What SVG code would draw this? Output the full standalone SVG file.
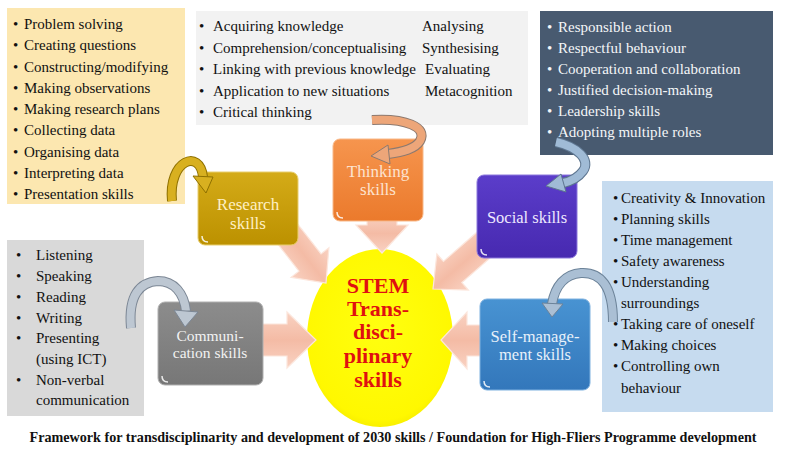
<svg xmlns="http://www.w3.org/2000/svg" width="786" height="450" viewBox="0 0 786 450">
<defs>
<style>
.t{font-family:"Liberation Serif","Times New Roman",serif;font-size:15px;fill:#111}
.w{fill:#F4F6F8}
.n{font-family:"Liberation Serif","Times New Roman",serif;text-anchor:middle}
.c{font-family:"Liberation Serif","Times New Roman",serif;font-weight:bold;font-size:22px;fill:#E01010;text-anchor:middle}
.big{fill:url(#gArrow);stroke:#FCE6DC;stroke-width:1.2}
.curl{fill:none;stroke:#FFFFFF;stroke-width:1.5;opacity:0.85}
</style>
<linearGradient id="gArrow" x1="0" y1="0" x2="0" y2="1">
<stop offset="0" stop-color="#F9D2C2"/><stop offset="0.5" stop-color="#F4BBA5"/><stop offset="1" stop-color="#F9D2C2"/>
</linearGradient>
<linearGradient id="gRes" x1="0" y1="0" x2="0" y2="1"><stop offset="0" stop-color="#D4AB18"/><stop offset="1" stop-color="#BC9100"/></linearGradient>
<linearGradient id="gThk" x1="0" y1="0" x2="0" y2="1"><stop offset="0" stop-color="#F6954E"/><stop offset="1" stop-color="#EB7A2C"/></linearGradient>
<linearGradient id="gSoc" x1="0" y1="0" x2="0" y2="1"><stop offset="0" stop-color="#5B3DCA"/><stop offset="1" stop-color="#4729B0"/></linearGradient>
<linearGradient id="gCom" x1="0" y1="0" x2="0" y2="1"><stop offset="0" stop-color="#8C8C8C"/><stop offset="1" stop-color="#777777"/></linearGradient>
<linearGradient id="gSelf" x1="0" y1="0" x2="0" y2="1"><stop offset="0" stop-color="#4893D2"/><stop offset="1" stop-color="#3377BB"/></linearGradient>
<radialGradient id="gSun" cx="0.5" cy="0.45" r="0.6"><stop offset="0" stop-color="#FFFF10"/><stop offset="0.85" stop-color="#FFF800"/><stop offset="1" stop-color="#F2E600"/></radialGradient>
</defs>
<rect width="786" height="450" fill="#FFFFFF"/>

<g id="list-research">
<rect x="7" y="8" width="178" height="196" fill="#FCE7B0"/>
<text class="t"><tspan x="13" y="29">•</tspan><tspan x="24" y="29">Problem solving</tspan></text>
<text class="t"><tspan x="13" y="50.3">•</tspan><tspan x="24" y="50.3">Creating questions</tspan></text>
<text class="t"><tspan x="13" y="71.5">•</tspan><tspan x="24" y="71.5">Constructing/modifying</tspan></text>
<text class="t"><tspan x="13" y="92.8">•</tspan><tspan x="24" y="92.8">Making observations</tspan></text>
<text class="t"><tspan x="13" y="114">•</tspan><tspan x="24" y="114">Making research plans</tspan></text>
<text class="t"><tspan x="13" y="135.3">•</tspan><tspan x="24" y="135.3">Collecting data</tspan></text>
<text class="t"><tspan x="13" y="156.5">•</tspan><tspan x="24" y="156.5">Organising data</tspan></text>
<text class="t"><tspan x="13" y="177.8">•</tspan><tspan x="24" y="177.8">Interpreting data</tspan></text>
<text class="t"><tspan x="13" y="199">•</tspan><tspan x="24" y="199">Presentation skills</tspan></text>
</g>

<g id="list-thinking">
<rect x="196" y="11" width="332" height="114" fill="#F2F2F2"/>
<text class="t"><tspan x="199" y="31">•</tspan><tspan x="213" y="31">Acquiring knowledge</tspan><tspan x="422" y="31">Analysing</tspan></text>
<text class="t"><tspan x="199" y="52.5">•</tspan><tspan x="213" y="52.5">Comprehension/conceptualising</tspan><tspan x="422" y="52.5">Synthesising</tspan></text>
<text class="t"><tspan x="199" y="74">•</tspan><tspan x="213" y="74">Linking with previous knowledge</tspan><tspan x="425" y="74">Evaluating</tspan></text>
<text class="t"><tspan x="199" y="95.5">•</tspan><tspan x="213" y="95.5">Application to new situations</tspan><tspan x="425" y="95.5">Metacognition</tspan></text>
<text class="t"><tspan x="199" y="117">•</tspan><tspan x="213" y="117">Critical thinking</tspan></text>
</g>

<g id="list-social">
<rect x="540" y="11" width="233" height="144" fill="#485A70"/>
<text class="t w"><tspan x="547" y="32">•</tspan><tspan x="558" y="32">Responsible action</tspan></text>
<text class="t w"><tspan x="547" y="53">•</tspan><tspan x="558" y="53">Respectful behaviour</tspan></text>
<text class="t w"><tspan x="547" y="74">•</tspan><tspan x="558" y="74">Cooperation and collaboration</tspan></text>
<text class="t w"><tspan x="547" y="95">•</tspan><tspan x="558" y="95">Justified decision-making</tspan></text>
<text class="t w"><tspan x="547" y="116">•</tspan><tspan x="558" y="116">Leadership skills</tspan></text>
<text class="t w"><tspan x="547" y="137">•</tspan><tspan x="558" y="137">Adopting multiple roles</tspan></text>
</g>

<g id="list-selfmanagement">
<rect x="602" y="181" width="171" height="231" fill="#C6DBEF"/>
<text class="t"><tspan x="613" y="203">•</tspan><tspan x="621" y="203">Creativity &amp; Innovation</tspan></text>
<text class="t"><tspan x="613" y="224">•</tspan><tspan x="621" y="224">Planning skills</tspan></text>
<text class="t"><tspan x="613" y="245">•</tspan><tspan x="621" y="245">Time management</tspan></text>
<text class="t"><tspan x="613" y="266">•</tspan><tspan x="621" y="266">Safety awareness</tspan></text>
<text class="t"><tspan x="613" y="287">•</tspan><tspan x="621" y="287">Understanding</tspan></text>
<text class="t"><tspan x="621" y="308">surroundings</tspan></text>
<text class="t"><tspan x="613" y="329">•</tspan><tspan x="621" y="329">Taking care of oneself</tspan></text>
<text class="t"><tspan x="613" y="350">•</tspan><tspan x="621" y="350">Making choices</tspan></text>
<text class="t"><tspan x="613" y="371">•</tspan><tspan x="621" y="371">Controlling own</tspan></text>
<text class="t"><tspan x="621" y="393">behaviour</tspan></text>
</g>

<g id="list-communication">
<rect x="7" y="240" width="137" height="176" fill="#D9D9D9"/>
<text class="t"><tspan x="16" y="260">•</tspan><tspan x="36" y="260">Listening</tspan></text>
<text class="t"><tspan x="16" y="281">•</tspan><tspan x="36" y="281">Speaking</tspan></text>
<text class="t"><tspan x="16" y="301.5">•</tspan><tspan x="36" y="301.5">Reading</tspan></text>
<text class="t"><tspan x="16" y="322.5">•</tspan><tspan x="36" y="322.5">Writing</tspan></text>
<text class="t"><tspan x="16" y="343">•</tspan><tspan x="36" y="343">Presenting</tspan></text>
<text class="t"><tspan x="36" y="364">(using ICT)</tspan></text>
<text class="t"><tspan x="16" y="384.5">•</tspan><tspan x="36" y="384.5">Non-verbal</tspan></text>
<text class="t"><tspan x="36" y="405">communication</tspan></text>
</g>

<g id="node-stem">
<ellipse cx="380" cy="338" rx="73" ry="89" fill="url(#gSun)"/>
<text class="c"><tspan x="378" y="293">STEM</tspan><tspan x="378" y="316">Trans-</tspan><tspan x="378" y="339">disci-</tspan><tspan x="378" y="363">plinary</tspan><tspan x="378" y="387">skills</tspan></text>
</g>

<g id="connectors">
<polygon class="big" points="367,214 397,214 397,225 408,225 382,253 356,225 367,225"/>
<polygon class="big" points="0,0 -26,-24 -26,-14 -75,-14 -75,14 -26,14 -26,24" transform="translate(326,283) rotate(52)"/>
<polygon class="big" points="0,0 -26,-24 -26,-14 -80,-14 -80,14 -26,14 -26,24" transform="translate(433,289) rotate(139)"/>
<polygon class="big" points="255,324 287,324 287,312 316,340 287,368 287,356 255,356"/>
<polygon class="big" points="490,325 467,325 467,312 441,340 467,369 467,356 490,356"/>
</g>

<g id="node-research">
<rect x="198" y="172" width="100" height="73" rx="7" fill="url(#gRes)" stroke="#E8CE6E" stroke-width="1"/>
<path class="curl" d="M202 236 Q202 242 208 242"/>
<text class="n" font-size="17" fill="#FFF0C4"><tspan x="248" y="210">Research</tspan><tspan x="248" y="229">skills</tspan></text>
</g>

<g id="node-thinking">
<rect x="333" y="139" width="90" height="82" rx="7" fill="url(#gThk)" stroke="#F8B888" stroke-width="1"/>
<path class="curl" d="M337 212 Q337 218 343 218"/>
<text class="n" font-size="17" fill="#FDE3CF"><tspan x="378" y="177">Thinking</tspan><tspan x="378" y="195">skills</tspan></text>
</g>

<g id="node-social">
<rect x="477" y="175" width="100" height="83" rx="7" fill="url(#gSoc)" stroke="#8C78DC" stroke-width="1"/>
<path class="curl" d="M481 249 Q481 255 487 255"/>
<text class="n" font-size="16.5" fill="#EEE9FF" x="527" y="223">Social skills</text>
</g>

<g id="node-communication">
<rect x="158" y="302" width="105" height="83" rx="7" fill="url(#gCom)" stroke="#B0B0B0" stroke-width="1"/>
<path class="curl" d="M162 376 Q162 382 168 382"/>
<text class="n" font-size="15.5" fill="#F2F2F2"><tspan x="210" y="341">Communi-</tspan><tspan x="210" y="358">cation skills</tspan></text>
</g>

<g id="node-selfmanagement">
<rect x="480" y="299" width="110" height="91" rx="7" fill="url(#gSelf)" stroke="#7FB2E0" stroke-width="1"/>
<path class="curl" d="M484 381 Q484 387 490 387"/>
<text class="n" font-size="16.5" fill="#E8F1FA"><tspan x="535" y="342">Self-manage-</tspan><tspan x="535" y="360">ment skills</tspan></text>
</g>

<g id="callout-connectors">
<g id="curve-research">
<path d="M172 201 C168 160 200 148 203 177" fill="none" stroke="#8E7000" stroke-width="10"/>
<path d="M172 201 C168 160 200 148 203 177" fill="none" stroke="#D8B020" stroke-width="8"/>
<polygon points="193,176 213,177 206,193" fill="#D8B020" stroke="#8E7000" stroke-width="1"/>
</g>
<g id="curve-thinking">
<path d="M372 120 C405 118 428 127 420 141 C415 149 403 152 388 154" fill="none" stroke="#8C7A70" stroke-width="10"/>
<path d="M372 120 C405 118 428 127 420 141 C415 149 403 152 388 154" fill="none" stroke="#EDA679" stroke-width="8"/>
<polygon points="388,145 390,164 371,156" fill="#EDA679" stroke="#8C7A70" stroke-width="1"/>
</g>
<g id="curve-social">
<path d="M556 142 C578 147 591 160 583 171 C578 178 572 181 563 183" fill="none" stroke="#5E7690" stroke-width="10"/>
<path d="M556 142 C578 147 591 160 583 171 C578 178 572 181 563 183" fill="none" stroke="#A0BBD6" stroke-width="8"/>
<polygon points="561,174 566,192 546,186" fill="#A0BBD6" stroke="#5E7690" stroke-width="1"/>
</g>
<g id="curve-selfmanagement">
<path d="M613 322 C613 285 600 272 581 273 C565 274 555 286 552 304" fill="none" stroke="#6C8399" stroke-width="10"/>
<path d="M613 322 C613 285 600 272 581 273 C565 274 555 286 552 304" fill="none" stroke="#AABFD4" stroke-width="8"/>
<polygon points="542,303 563,304 552,317" fill="#AABFD4" stroke="#6C8399" stroke-width="1"/>
</g>
<g id="curve-communication">
<path d="M131 328 C128 295 140 282 158 281 C174 281 184 293 186 311" fill="none" stroke="#7C8795" stroke-width="10"/>
<path d="M131 328 C128 295 140 282 158 281 C174 281 184 293 186 311" fill="none" stroke="#BDC7D2" stroke-width="8"/>
<polygon points="174,310 198,312 185,327" fill="#BDC7D2" stroke="#7C8795" stroke-width="1"/>
</g>
</g>

<text x="393" y="442" text-anchor="middle" font-family="Liberation Serif, Times New Roman, serif" font-weight="bold" font-size="14" fill="#111" textLength="727" lengthAdjust="spacingAndGlyphs">Framework for transdisciplinarity and development of 2030 skills / Foundation for High-Fliers Programme development</text>
</svg>
